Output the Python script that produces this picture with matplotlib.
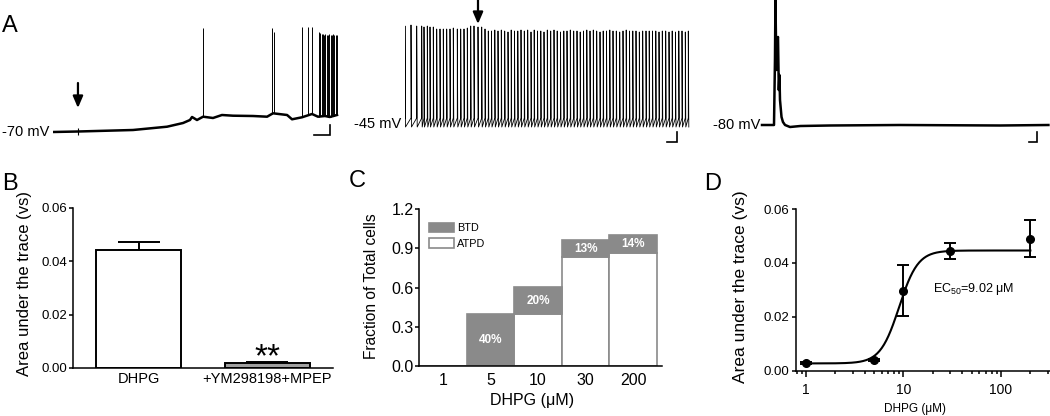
import numpy as np
import matplotlib
matplotlib.use('Agg')
import matplotlib.pyplot as plt
from matplotlib.patches import Patch
from matplotlib.ticker import FormatStrFormatter, LogLocator, NullFormatter, FixedLocator

plt.rcParams['font.family'] = ['Liberation Sans', 'DejaVu Sans']
plt.rcParams['mathtext.fontset'] = 'custom'
plt.rcParams['mathtext.rm'] = 'Liberation Sans'
plt.rcParams['mathtext.it'] = 'Liberation Sans:italic'
plt.rcParams['mathtext.bf'] = 'Liberation Sans:bold'
plt.rcParams['mathtext.default'] = 'regular'

# ---------------- data ----------------
# Panel A1: slow depolarisation then firing (time s, membrane potential mV)
a1_base_t = [0, 15.6, 50, 71.3, 81.3, 85.6, 86.9, 90, 93.8, 100, 105.6, 112.5,
             125, 133.8, 137.5, 146.3, 149.4, 155.6, 161.9, 165.6, 170, 173, 177.5]
a1_base_v = [-70, -69.5, -68, -64.7, -61, -58, -55, -58, -54.7, -56, -53, -53.7,
             -54, -54.7, -51.3, -53, -57.3, -55.3, -52, -54.7, -54, -55, -53]
a1_spike_t = [93.8, 136.7, 138.1, 155.8, 159.6, 161.7,
              166.3, 167.1, 167.9, 168.7, 169.5, 170.3, 171.1, 171.9, 172.7,
              173.5, 174.3, 175.1, 175.9, 176.7, 177.5]
a1_spike_peak = [34.5, 34.5, 30, 35, 35, 35,
                 30, 29, 28, 28, 27, 28, 27, 27, 28, 27, 27, 28, 27, 27, 27]
a1_arrow_t = 15.6

# Panel A2: tonic firing at -45 mV
a2_spike_t = [0.0, 0.6, 1.17, 1.67, 1.9, 2.23, 2.5, 2.83, 3.17, 3.5, 3.83, 4.17,
              4.5, 4.83, 5.23, 5.57, 5.9, 6.23, 6.57, 6.9, 7.3, 7.67,
              8.0, 8.33, 8.65, 8.98, 9.3, 9.63, 9.97, 10.3, 10.62, 10.95, 11.28,
              11.6, 11.93, 12.27, 12.6, 12.92, 13.25, 13.58, 13.9, 14.23, 14.57,
              14.9, 15.22, 15.55, 15.88, 16.2, 16.53, 16.87, 17.2, 17.52, 17.85,
              18.18, 18.5, 18.83, 19.17, 19.5, 19.82, 20.15, 20.48, 20.8, 21.13,
              21.47, 21.8, 22.12, 22.45, 22.78, 23.1, 23.43, 23.77, 24.1, 24.42,
              24.75, 25.08, 25.4, 25.73, 26.07, 26.4, 26.72, 27.05, 27.38, 27.7,
              28.03, 28.33]
a2_spike_peak = [53, 54, 53, 53, 52, 53, 52, 52, 50, 50, 50, 50, 50, 51, 50, 50,
                 50, 51, 53, 53, 52, 52,
                 50, 48, 48, 49, 48, 49, 48, 47, 49, 48, 48, 49, 48, 49, 47, 49,
                 48, 48, 47, 49, 48, 49, 48, 47, 48, 48, 49, 48, 48, 47, 48, 49,
                 48, 49, 48, 47, 48, 48, 49, 48, 48, 47, 48, 49, 48, 48, 48, 47,
                 48, 48, 48, 48, 48, 47, 48, 48, 47, 48, 47, 48, 48, 47, 48]
a2_threshold = -39
a2_ahp = -48
a2_arrow_t = 7.3

# Panel A3: single burst then -80 mV
a3_t = [0, 0.75, 0.81, 0.84, 0.90, 0.94, 1.0, 1.05, 1.09, 1.125, 1.22, 1.31,
        1.44, 1.75, 2.4, 4.25, 8.6, 14.9, 17.9]
a3_v = [-80, -80, -15, 45, -25, 5, 8, -45, -30, -55, -72, -77,
        -80, -82, -81, -80.5, -80, -80.5, -80]

# Panel B
b_labels = ['DHPG', '+YM298198+MPEP']
b_values = [0.044, 0.002]
b_err = [0.003, 0.0004]

# Panel C
c_cats = ['1', '5', '10', '30', '200']
c_atpd = [0, 0, 0.40, 0.83, 0.86]
c_btd = [0, 0.40, 0.20, 0.13, 0.14]
c_pct = ['', '40%', '20%', '13%', '14%']

# Panel D
d_conc = [1, 5, 10, 30, 200]
d_mean = [0.003, 0.004, 0.0297, 0.0443, 0.049]
d_sem = [0.0004, 0.0004, 0.0095, 0.003, 0.0068]
d_bottom, d_top, d_ec50, d_hill = 0.0027, 0.0446, 9.02, 4.5

# ---------------- figure ----------------
W, H = 1050, 416
fig = plt.figure(figsize=(W / 100, H / 100), dpi=100)


def ax_px(l, t, r, b):
    return fig.add_axes([l / W, 1 - b / H, (r - l) / W, (b - t) / H])


TXT = 10.5


def scale_bar(ax, x0, y0, dx, dy):
    ax.plot([x0, x0 + dx, x0 + dx], [y0, y0, y0 + dy], color='k', lw=1.2,
            solid_joinstyle='miter', clip_on=False)


def arrow(ax, t, v_top, v_tip):
    ax.annotate('', xy=(t, v_tip), xytext=(t, v_top),
                arrowprops=dict(arrowstyle='-|>,head_length=0.7,head_width=0.3',
                                color='k', lw=1.6, shrinkA=0, shrinkB=0),
                annotation_clip=False)

# A1
ax = ax_px(53, 0, 345, 150)
ax.set_xlim(0, 182.5)
ax.set_ylim(-88, 62)
ax.axis('off')
ax.plot(a1_base_t, a1_base_v, color='k', lw=1.8)
base_at = np.interp(a1_spike_t, a1_base_t, a1_base_v)
ax.vlines(a1_spike_t, base_at, a1_spike_peak, color='k', lw=0.7)
ax.vlines([a1_arrow_t], -73, -66, color='k', lw=0.8)
arrow(ax, a1_arrow_t, -21, -46)
ax.text(-2.5, -70, '-70 mV', ha='right', va='center', fontsize=TXT)
scale_bar(ax, 163.1, -73, 10, 10)

# A2
ax = ax_px(405, 0, 690, 150)
ax.set_xlim(0, 28.5)
ax.set_ylim(-71, 79)
ax.axis('off')
xs, ys = [], []
for t, p in zip(a2_spike_t, a2_spike_peak):
    xs += [t, t, t + 0.05]
    ys += [a2_threshold, p, a2_ahp]
ax.plot(xs, ys, color='k', lw=0.6)
arrow(ax, a2_arrow_t, 79, 55)
ax.text(-0.4, -45, '-45 mV', ha='right', va='center', fontsize=TXT)
scale_bar(ax, 26.2, -63, 1, 10)

# A3
ax = ax_px(762, 0, 1050, 150)
ax.set_xlim(0, 18.0)
ax.set_ylim(-105, 45)
ax.axis('off')
ax.plot(a3_t, a3_v, color='k', lw=1.8, clip_on=False)
ax.text(-0.1, -80, '-80 mV', ha='right', va='center', fontsize=TXT)
scale_bar(ax, 16.7, -97, 0.5, 10)

fig.text(2 / W, 1 - 15 / H, 'A', fontsize=17, va='top', ha='left')

SPW = 1.1

# B
ax = ax_px(73, 207.7, 333, 368)
xb = np.arange(len(b_labels))
ax.bar(xb, b_values, width=0.66, color=['white', '#a0a0a0'], edgecolor='k', lw=1.4,
       zorder=2)
ax.errorbar(xb, b_values, yerr=[[0, 0], b_err], fmt='none', ecolor='k', elinewidth=1.4,
            capsize=15, capthick=1.4, zorder=1)
ax.set_xlim(-0.508, 1.508)
ax.set_ylim(0, 0.06)
ax.set_yticks([0, 0.02, 0.04, 0.06])
ax.yaxis.set_major_formatter(FormatStrFormatter('%.2f'))
ax.set_xticks(xb)
ax.set_xticklabels(b_labels)
ax.tick_params(axis='x', length=0, pad=3, labelsize=10.5)
ax.tick_params(axis='y', length=3, width=SPW, pad=1, labelsize=9.5, direction='out')
for s in ['top', 'right']:
    ax.spines[s].set_visible(False)
for s in ['left', 'bottom']:
    ax.spines[s].set_linewidth(SPW)
ax.text(1, 0.0007, '**', ha='center', va='baseline', fontsize=24)
fig.text(25 / W, 1 - 283 / H, 'Area under the trace (vs)', rotation=90,
         ha='center', va='center', fontsize=12)
fig.text(2 / W, 1 - 173 / H, 'B', fontsize=17, va='top', ha='left')

# C
ax = ax_px(419, 209, 662, 366)
xc = np.arange(len(c_cats))
gray = '#8a8a8a'
ax.bar(xc, c_atpd, width=1.0, color='white', edgecolor=gray, lw=1.2, label='ATPD')
ax.bar(xc, c_btd, width=1.0, bottom=c_atpd, color=gray, edgecolor=gray, lw=1.2,
       label='BTD')
for x, a, b, s in zip(xc, c_atpd, c_btd, c_pct):
    if s:
        ax.text(x, a + b / 2, s, ha='center', va='center', color='white',
                fontweight='bold', fontsize=8.5)
ax.set_xlim(-0.505, 4.61)
ax.set_ylim(0, 1.2)
ax.set_yticks([0, 0.3, 0.6, 0.9, 1.2])
ax.yaxis.set_major_formatter(FormatStrFormatter('%.1f'))
ax.set_xticks(xc)
ax.set_xticklabels(c_cats)
ax.tick_params(axis='x', length=0, pad=5, labelsize=11.5)
ax.tick_params(axis='y', length=3, width=SPW, pad=1, labelsize=11.5, direction='out')
for s in ['top', 'right']:
    ax.spines[s].set_visible(False)
for s in ['left', 'bottom']:
    ax.spines[s].set_linewidth(SPW)
handles = [Patch(facecolor=gray, edgecolor=gray, lw=1.2, label='BTD'),
           Patch(facecolor='white', edgecolor=gray, lw=1.2, label='ATPD')]
ax.legend(handles=handles, loc='upper left', bbox_to_anchor=(0.0, 0.975),
          frameon=False, fontsize=7.8, handlelength=2.3, handleheight=1.0,
          handletextpad=0.3, labelspacing=0.45, borderaxespad=0.5)
fig.text(372 / W, 1 - 286 / H, 'Fraction of Total cells', rotation=90,
         ha='center', va='center', fontsize=11.2)
fig.text(532 / W, 1 - 400 / H, 'DHPG (\u03bcM)', ha='center', va='center',
         fontsize=11.5)
fig.text(349 / W, 1 - 170 / H, 'C', fontsize=17, va='top', ha='left')

# D
ax = ax_px(796, 209, 1050, 370.7)
ax.set_xscale('log')
xf = np.logspace(0, np.log10(200), 300)
yf = d_bottom + (d_top - d_bottom) / (1 + (d_ec50 / xf) ** d_hill)
ax.plot(xf, yf, color='k', lw=1.5, zorder=2)
ax.errorbar(d_conc, d_mean, yerr=d_sem, fmt='o', color='k', ms=5.5, elinewidth=1.4,
            capsize=4, capthick=1.4, zorder=3)
ax.set_xlim(0.79, 318)
ax.set_ylim(0, 0.06)
ax.set_yticks([0, 0.02, 0.04, 0.06])
ax.yaxis.set_major_formatter(FormatStrFormatter('%.2f'))
ax.xaxis.set_major_locator(FixedLocator([1, 10, 100]))
ax.set_xticklabels(['1', '10', '100'])
ax.xaxis.set_minor_locator(LogLocator(base=10, subs=np.arange(2, 10)))
ax.xaxis.set_minor_formatter(NullFormatter())
ax.tick_params(axis='x', which='major', length=4, width=SPW, pad=4.5, labelsize=10)
ax.tick_params(axis='x', which='minor', length=2.5, width=SPW)
ax.tick_params(axis='y', length=3, width=SPW, pad=1.5, labelsize=9.5, direction='out')
for s in ['top', 'right']:
    ax.spines[s].set_visible(False)
for s in ['left', 'bottom']:
    ax.spines[s].set_linewidth(SPW)
ax.text(20.1, 0.0303, 'EC$_{50}$=9.02 \u03bcM', ha='left', va='center', fontsize=9)
fig.text(740 / W, 1 - 287 / H, 'Area under the trace (vs)', rotation=90,
         ha='center', va='center', fontsize=12.5)
fig.text(915 / W, 1 - 409 / H, 'DHPG (\u03bcM)', ha='center', va='center',
         fontsize=8.5)
fig.text(704 / W, 1 - 173 / H, 'D', fontsize=17, va='top', ha='left')

fig.savefig('out.png', dpi=100)
